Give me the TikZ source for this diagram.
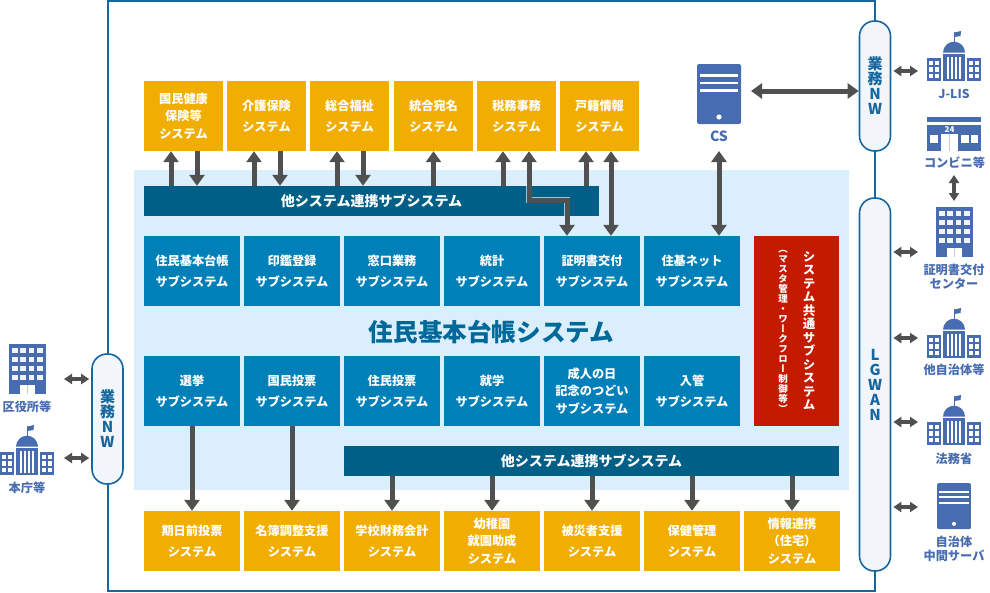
\documentclass[tikz,border=0pt]{standalone}
\usepackage{fontspec}
\setmainfont{Noto Sans CJK JP}
\newfontfamily\tatefont[RawFeature={+vert}]{Noto Sans CJK JP}
\usetikzlibrary{arrows.meta}

\definecolor{iconblue}{HTML}{476CB0}
\definecolor{linegray}{HTML}{505050}
\definecolor{netblue}{HTML}{16669F}
\definecolor{pillfill}{HTML}{F2F6FA}
\definecolor{paleblue}{HTML}{DAEEFB}
\definecolor{sysorange}{HTML}{F2AE00}
\definecolor{subblue}{HTML}{0080B8}
\definecolor{bardark}{HTML}{005F87}
\definecolor{comred}{HTML}{C41A00}
\definecolor{titleblue}{HTML}{00699A}

\tikzset{
  boxtext/.style={inner sep=0pt, text=white, align=center, font=\bfseries\fontsize{12.2}{17.5}\selectfont},
  sysbox/.style={boxtext, fill=sysorange, minimum width=79pt, minimum height=70pt},
  lowbox/.style={boxtext, fill=sysorange, minimum width=96pt, minimum height=60pt},
  subbox/.style={boxtext, fill=subblue, minimum width=96pt, minimum height=70pt},
  barbox/.style={inner sep=0pt, text=white, fill=bardark, minimum height=30pt, font=\bfseries\fontsize{14}{16}\selectfont},
  pillbox/.style={draw=netblue, line width=1.6pt, fill=pillfill, rounded corners=15pt, minimum width=31pt,
    inner sep=0pt, text=netblue, align=center, font=\bfseries\fontsize{15}{15}\selectfont},
  iconlabel/.style={inner sep=0pt, text=iconblue, align=center, font=\bfseries\fontsize{12.2}{14}\selectfont},
  biglink/.style={draw=linegray, line width=5pt, {Triangle[width=15pt,length=11pt]}-{Triangle[width=15pt,length=11pt]}},
  uplink/.style={draw=linegray, line width=5pt, -{Triangle[width=15pt,length=11pt]}},
  smalllink/.style={draw=linegray, line width=3.3pt, {Triangle[width=10pt,length=8pt]}-{Triangle[width=10pt,length=8pt]}},
  govicon/.pic={
    \fill[iconblue] (-11,-27) rectangle (11,0);
    \fill[iconblue] (-27,-23) rectangle (-13,0);
    \fill[iconblue] (13,-23) rectangle (27,0);
    \fill[iconblue] (-11,-28.3) arc[start angle=180, end angle=360, radius=11] -- cycle;
    \fill[iconblue] (-0.5,-49) rectangle (0.5,-38);
    \fill[iconblue] (0.5,-48.5) -- (7,-50) -- (6.5,-45) -- (0.5,-44) -- cycle;
    \foreach \sx in {-6,-2,2,6} \fill[white] (\sx-1,-24) rectangle (\sx+1,-2);
    \foreach \sx in {-25,-19,15,21} \foreach \sy in {-20.5,-14,-7.5} \fill[white] (\sx,\sy) rectangle (\sx+4,\sy+4.5);
  },
  officeicon/.pic={
    \fill[iconblue] (0,0) rectangle (37,50);
    \foreach \sx in {0,1,2,3} \foreach \sy in {0,1,2,3} \fill[white!92!iconblue] (3+8.4*\sx,4+9*\sy) rectangle (8.5+8.4*\sx,8.5+9*\sy);
    \fill[white] (11,41) rectangle (26,50);
    \fill[iconblue!35] (18.2,41) rectangle (18.8,50);
  },
  servericon/.pic={
    \fill[iconblue, rounded corners=2pt] (-22,0) rectangle (22,60);
    \foreach \sy in {10,17.5,25} \fill[white] (-19,\sy) rectangle (19,\sy+2.6);
    \fill[white] (0,53) circle[radius=2.6];
  },
  shopicon/.pic={
    \fill[iconblue] (0,0) rectangle (54,5);
    \fill[iconblue] (0,7.5) rectangle (54,34);
    \fill[white] (14,17) rectangle (31,34);
    \fill[iconblue!35] (22.2,17) rectangle (22.8,34);
    \fill[white] (3,18) rectangle (11,26);
    \fill[white] (34,18) rectangle (42,26);
    \fill[white] (44,18) rectangle (51,26);
    \node[inner sep=0pt, text=white, font=\bfseries\fontsize{8}{8}\selectfont] (shopno) at (22.5,12.3) {24};
  },
}

\begin{document}
\begin{tikzpicture}[x=1pt,y=-1pt]
\useasboundingbox (0,0) rectangle (990,592);

\draw[netblue, line width=1.6pt] (108,1) rectangle (875,591);
\fill[paleblue] (134,170) rectangle (849,490);

% top systems
\node[sysbox] (kokuho) at (183.5,116) {国民健康\\保険等\\システム};
\node[sysbox] (kaigo) at (266.5,116) {介護保険\\[4pt]システム};
\node[sysbox] (fukushi) at (349.5,116) {総合福祉\\[4pt]システム};
\node[sysbox] (atena) at (433.5,116) {統合宛名\\[4pt]システム};
\node[sysbox] (zeimu) at (516.5,116) {税務事務\\[4pt]システム};
\node[sysbox] (koseki) at (599.5,116) {戸籍情報\\[4pt]システム};

\node[barbox, minimum width=455pt] (upbar) at (371.5,201) {他システム連携サブシステム};

% subsystems
\node[subbox] (daicho) at (192,271) {住民基本台帳\\[4pt]サブシステム};
\node[subbox] (inkan) at (292,271) {印鑑登録\\[4pt]サブシステム};
\node[subbox] (madoguchi) at (392,271) {窓口業務\\[4pt]サブシステム};
\node[subbox] (tokei) at (492,271) {統計\\[4pt]サブシステム};
\node[subbox] (shomei) at (592,271) {証明書交付\\[4pt]サブシステム};
\node[subbox] (jukinet) at (692,271) {住基ネット\\[4pt]サブシステム};

\node[inner sep=0pt, text=titleblue, font=\bfseries\fontsize{24.6}{26}\selectfont] (title) at (491.5,332) {住民基本台帳システム};

\node[subbox] (senkyo) at (192,391) {選挙\\[4pt]サブシステム};
\node[subbox] (kokumin) at (292,391) {国民投票\\[4pt]サブシステム};
\node[subbox] (jumin) at (392,391) {住民投票\\[4pt]サブシステム};
\node[subbox] (shugaku) at (492,391) {就学\\[4pt]サブシステム};
\node[subbox] (seijin) at (592,391) {成人の日\\記念のつどい\\サブシステム};
\node[subbox] (nyukan) at (692,391) {入管\\[4pt]サブシステム};

\node[fill=comred, minimum width=85pt, minimum height=190pt, inner sep=0pt] (kyotsu) at (796.5,331) {};
\node[inner sep=0pt, text=white, align=center, font=\tatefont\bfseries\fontsize{12.5}{13.5}\selectfont] (kyotsua) at (809,331)
  {シ\\ス\\テ\\ム\\共\\通\\サ\\ブ\\シ\\ス\\テ\\ム};
\node[inner sep=0pt, text=white, align=center, font=\tatefont\bfseries\fontsize{9.5}{10}\selectfont] (kyotsub) at (783,331)
  {（\\マ\\ス\\タ\\管\\理\\・\\ワ\\ー\\ク\\フ\\ロ\\ー\\制\\御\\等\\）};

\node[barbox, minimum width=495pt] (lowbar) at (591.5,461) {他システム連携サブシステム};

% bottom systems
\node[lowbox] (kijitsu) at (192,541) {期日前投票\\[4pt]システム};
\node[lowbox] (meibo) at (292,541) {名簿調整支援\\[4pt]システム};
\node[lowbox] (gakko) at (392,541) {学校財務会計\\[4pt]システム};
\node[lowbox] (yochien) at (492,541) {幼稚園\\就園助成\\システム};
\node[lowbox] (hisai) at (592,541) {被災者支援\\[4pt]システム};
\node[lowbox] (hoken) at (692,541) {保健管理\\[4pt]システム};
\node[lowbox] (joho) at (792,541) {情報連携\\（住宅）\\システム};

% networks
\node[pillbox, minimum height=130pt] (nwleft) at (107.5,419) {業\\務\\N\\W};
\node[pillbox, minimum height=130pt] (nwright) at (875,86) {業\\務\\N\\W};
\node[pillbox, minimum height=373pt] (lgwan) at (875,384.5) {L\\G\\W\\A\\N};

% icons
\pic at (719,64) {servericon};
\node[iconlabel, font=\bfseries\fontsize{14}{14}\selectfont] (cslabel) at (719,136) {CS};
\pic at (954,81) {govicon};
\node[iconlabel] (jlislabel) at (954,94) {J-LIS};
\pic at (927,117) {shopicon};
\node[iconlabel] (shoplabel) at (954.5,163) {コンビニ等};
\pic at (936,207) {officeicon};
\node[iconlabel] (centerlabel) at (954,276.5) {証明書交付\\センター};
\pic at (954,358) {govicon};
\node[iconlabel] (tajichilabel) at (954,370) {他自治体等};
\pic at (954,445) {govicon};
\node[iconlabel] (homulabel) at (954,459) {法務省};
\pic[scale=0.77] at (954,483) {servericon};
\node[iconlabel] (chukanlabel) at (954,548.5) {自治体\\中間サーバ};
\pic at (9,344) {officeicon};
\node[iconlabel] (kuyakulabel) at (27,407) {区役所等};
\pic at (27,475) {govicon};
\node[iconlabel] (honchulabel) at (27,488) {本庁等};

\coordinate (csport) at (751,91);
\coordinate (csdrop) at (719,151);
\coordinate (jlisport) at (918,71);
\coordinate (centerport) at (918,252);
\coordinate (tajichiport) at (918,338);
\coordinate (homuport) at (918,422);
\coordinate (chukanport) at (918,507);
\coordinate (kuyakuport) at (64,379);
\coordinate (honchuport) at (64,458);
\coordinate (shopport) at (954,175);
\coordinate (officeport) at (954,201);
\coordinate (taxbend) at (529,200);

% links to upper bar
\draw[uplink] ([xshift=-12.5pt]kokuho.south |- upbar.north) -- ([xshift=-12.5pt]kokuho.south);
\draw[uplink] ([xshift=13.5pt]kokuho.south) -- ([xshift=13.5pt]kokuho.south |- upbar.north);
\draw[uplink] ([xshift=-12.5pt]kaigo.south |- upbar.north) -- ([xshift=-12.5pt]kaigo.south);
\draw[uplink] ([xshift=13.5pt]kaigo.south) -- ([xshift=13.5pt]kaigo.south |- upbar.north);
\draw[uplink] ([xshift=-12.5pt]fukushi.south |- upbar.north) -- ([xshift=-12.5pt]fukushi.south);
\draw[uplink] ([xshift=13.5pt]fukushi.south) -- ([xshift=13.5pt]fukushi.south |- upbar.north);
\draw[uplink] (atena.south |- upbar.north) -- (atena.south);
\draw[uplink] ([xshift=-13.5pt]zeimu.south |- upbar.north) -- ([xshift=-13.5pt]zeimu.south);
\draw[uplink] ([xshift=-13.5pt]koseki.south |- upbar.north) -- ([xshift=-13.5pt]koseki.south);

% links through the bar
\draw[paleblue!70!bardark, line width=6.5pt] (taxbend |- upbar.north) -- (taxbend) -| ([xshift=-25pt]shomei.north |- upbar.south);
\draw[biglink] ([xshift=12.5pt]zeimu.south) -- (taxbend) -| ([xshift=-25pt]shomei.north);
\draw[biglink] ([xshift=11.5pt]koseki.south) -- ([xshift=19pt]shomei.north);
\draw[biglink] (jukinet.north -| csdrop) -- (csdrop);
\draw[biglink] (csport) -- (csport -| nwright.west);

% links to lower bar
\draw[uplink] (senkyo.south) -- (kijitsu.north);
\draw[uplink] (kokumin.south) -- (meibo.north);
\draw[uplink] (gakko.north |- lowbar.south) -- (gakko.north);
\draw[uplink] (yochien.north |- lowbar.south) -- (yochien.north);
\draw[uplink] (hisai.north |- lowbar.south) -- (hisai.north);
\draw[uplink] (hoken.north |- lowbar.south) -- (hoken.north);
\draw[uplink] (joho.north |- lowbar.south) -- (joho.north);

% outside links
\draw[smalllink, shorten >=2pt] (jlisport) -- (jlisport -| nwright.east);
\draw[smalllink, shorten >=2pt] (centerport) -- (centerport -| lgwan.east);
\draw[smalllink, shorten >=2pt] (tajichiport) -- (tajichiport -| lgwan.east);
\draw[smalllink, shorten >=2pt] (homuport) -- (homuport -| lgwan.east);
\draw[smalllink, shorten >=2pt] (chukanport) -- (chukanport -| lgwan.east);
\draw[smalllink, shorten >=2pt] (kuyakuport) -- (kuyakuport -| nwleft.west);
\draw[smalllink, shorten >=2pt] (honchuport) -- (honchuport -| nwleft.west);
\draw[smalllink] (shopport) -- (officeport);

\end{tikzpicture}
\end{document}
